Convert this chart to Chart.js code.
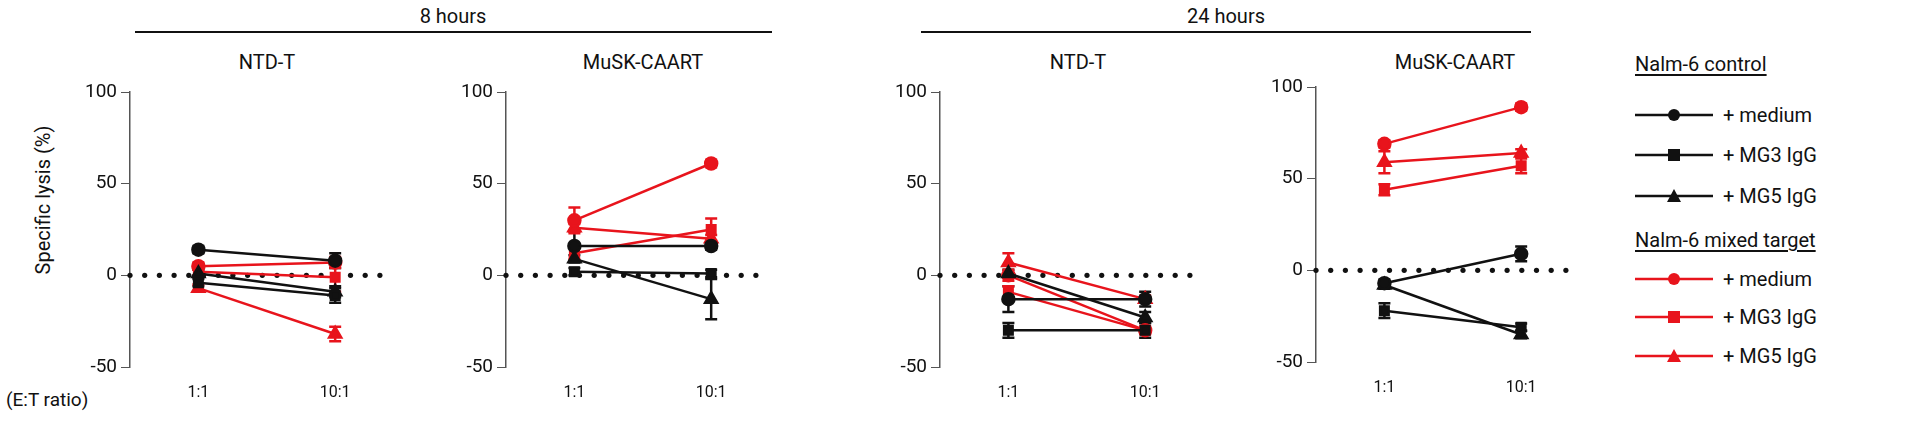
<!DOCTYPE html>
<html>
<head>
<meta charset="utf-8">
<script src="https://cdn.jsdelivr.net/npm/chart.js@4"></script>
<style>
  body { margin:0; width:1920px; height:439px; background:#fff; position:relative; overflow:hidden;
         font-family:Roboto, "Liberation Sans", sans-serif; color:#111; }
  .abs { position:absolute; }
  .hdr { font-size:20px; text-align:center; }
  .hline { height:2px; background:#111; }
  .ttl { font-size:20px; text-align:center; width:200px; }
  canvas.panel { position:absolute; top:60px; }
  .leg { font-size:20px; }
  .leg .grp { text-decoration:underline; text-underline-offset:3px; }
</style>
</head>
<body>
<div class="abs hdr" style="left:353px;top:4px;width:200px">8 hours</div>
<div class="abs hline" style="left:135px;top:31px;width:637px"></div>
<div class="abs hdr" style="left:1126px;top:4px;width:200px">24 hours</div>
<div class="abs hline" style="left:921px;top:31px;width:610px"></div>

<div class="abs ttl" style="left:167px;top:50px">NTD-T</div>
<div class="abs ttl" style="left:543px;top:50px">MuSK-CAART</div>
<div class="abs ttl" style="left:978px;top:50px">NTD-T</div>
<div class="abs ttl" style="left:1355px;top:50px">MuSK-CAART</div>

<div class="abs" style="left:-52px;top:188px;width:190px;font-size:20px;text-align:center;transform:rotate(-90deg)">Specific lysis (%)</div>
<div class="abs" style="left:6px;top:388px;font-size:19px">(E:T ratio)</div>

<canvas id="c0" class="panel" width="340" height="340" style="left:70px"></canvas>
<canvas id="c1" class="panel" width="340" height="340" style="left:446px"></canvas>
<canvas id="c2" class="panel" width="340" height="340" style="left:880px"></canvas>
<canvas id="c3" class="panel" width="340" height="340" style="left:1256px;top:55px"></canvas>

<div id="legend" class="abs leg" style="left:1635px;top:0px"></div>

<script>
// ---- data ----
const ratios = ['1:1', '10:1'];
const seriesNames = ['+ medium', '+ MG3 IgG', '+ MG5 IgG'];
const groupNames = ['Nalm-6 control', 'Nalm-6 mixed target'];

// 8 hours, NTD-T
const h8ntdCtrl = [[14, 8], [-4, -11], [1, -9]];
const h8ntdMix  = [[5, 7], [2, -1], [-7, -32]];
const h8ntdCtrlErr = [[2, 4], [2, 4], [2, 3]];
const h8ntdMixErr  = [[2, 3], [2, 8], [2, 4]];
// 8 hours, MuSK-CAART
const h8muskCtrl = [[16, 16], [2, 1], [9, -13]];
const h8muskMix  = [[30, 61], [12, 25], [26, 20]];
const h8muskCtrlErr = [[8, 2], [2, 2], [2, 11]];
const h8muskMixErr  = [[7, 2], [3, 6], [2, 2]];
// 24 hours, NTD-T
const h24ntdCtrl = [[-13, -13], [-30, -30], [1, -23]];
const h24ntdMix  = [[0, -30], [-9, -30], [7, -13]];
const h24ntdCtrlErr = [[7, 4], [4, 4], [2, 3]];
const h24ntdMixErr  = [[3, 2], [3, 2], [5, 2]];
// 24 hours, MuSK-CAART
const h24muskCtrl = [[-7, 9], [-22, -31], [-8, -35]];
const h24muskMix  = [[69, 89], [44, 57], [59, 64]];
const h24muskCtrlErr = [[2, 4], [4, 2], [2, 2]];
const h24muskMixErr  = [[2, 2], [3, 4], [6, 2]];

const yTicks = [-50, 0, 50, 100];

const BLACK = '#111111';
const RED = '#e8141c';
const shapes = ['circle', 'rect', 'triangle'];

// error bars + dotted zero line
const extrasPlugin = {
    id: 'extras',
    beforeDatasetsDraw(chart) {
        const { ctx, scales: { x, y } } = chart;
        const y0 = y.getPixelForValue(0);
        ctx.save();
        ctx.fillStyle = BLACK;
        for (let px = x.left; px <= x.right; px += 14.7) {
            ctx.beginPath();
            ctx.arc(px, y0, 2.6, 0, Math.PI * 2);
            ctx.fill();
        }
        chart.data.datasets.forEach(ds => {
            ds.data.forEach((p, i) => {
                const e = ds.err[i];
                if (!e) return;
                const cx = x.getPixelForValue(p.x);
                const top = y.getPixelForValue(p.y + e), bot = y.getPixelForValue(p.y - e);
                ctx.strokeStyle = ds.borderColor;
                ctx.lineWidth = 2.5;
                ctx.beginPath();
                ctx.moveTo(cx, top); ctx.lineTo(cx, bot);
                ctx.moveTo(cx - 6, top); ctx.lineTo(cx + 6, top);
                ctx.moveTo(cx - 6, bot); ctx.lineTo(cx + 6, bot);
                ctx.stroke();
            });
        });
        ctx.restore();
    }
};

function makeSets(vals, errs, color) {
    return vals.map((v, s) => ({
        label: seriesNames[s],
        data: v.map((val, i) => ({ x: i + 1, y: val })),
        err: errs[s],
        borderColor: color,
        backgroundColor: color,
        borderWidth: 2.5,
        pointStyle: shapes[s],
        pointRadius: s === 2 ? 7 : 6
    }));
}

function createPanel(id, ctrl, ctrlErr, mix, mixErr) {
    new Chart(document.getElementById(id), {
        type: 'line',
        data: { datasets: [...makeSets(ctrl, ctrlErr, BLACK), ...makeSets(mix, mixErr, RED)] },
        options: {
            responsive: false,
            devicePixelRatio: 1,
            animation: false,
            layout: { padding: { top: 32, right: 16, left: 0, bottom: 0 } },
            plugins: { legend: { display: false }, tooltip: { enabled: false } },
            scales: {
                x: {
                    type: 'linear', min: 0.5, max: 2.43,
                    afterBuildTicks: s => { s.ticks = [{ value: 1 }, { value: 2 }]; },
                    afterFit: s => { s.height = 33; },
                    grid: { display: false }, border: { display: false },
                    ticks: { callback: v => ratios[v - 1], color: BLACK, font: { size: 16, family: 'Roboto' }, padding: 8 }
                },
                y: {
                    min: -50, max: 100,
                    afterBuildTicks: s => { s.ticks = yTicks.map(v => ({ value: v })); },
                    afterFit: s => { s.width = 60; },
                    grid: { drawOnChartArea: false, tickLength: 9, color: '#555' },
                    border: { color: '#555', width: 1.5 },
                    ticks: { color: BLACK, font: { size: 19, family: 'Roboto' }, padding: 4 }
                }
            }
        },
        plugins: [extrasPlugin]
    });
}

createPanel('c0', h8ntdCtrl, h8ntdCtrlErr, h8ntdMix, h8ntdMixErr);
createPanel('c1', h8muskCtrl, h8muskCtrlErr, h8muskMix, h8muskMixErr);
createPanel('c2', h24ntdCtrl, h24ntdCtrlErr, h24ntdMix, h24ntdMixErr);
createPanel('c3', h24muskCtrl, h24muskCtrlErr, h24muskMix, h24muskMixErr);

// legend
function markerSvg(shape, color) {
    let m = '';
    if (shape === 'circle') m = `<circle cx="39" cy="10" r="6" fill="${color}"/>`;
    if (shape === 'rect') m = `<rect x="33" y="4" width="12" height="12" fill="${color}"/>`;
    if (shape === 'triangle') m = `<polygon points="39,3 46,16 32,16" fill="${color}"/>`;
    return `<svg width="80" height="20" style="vertical-align:middle"><line x1="0" y1="10" x2="78" y2="10" stroke="${color}" stroke-width="2.5"/>${m}</svg>`;
}
const legendTops = [[113, 153, 194], [277, 315, 354]];
let html = '';
[BLACK, RED].forEach((color, g) => {
    html += `<div class="abs grp" style="left:0;top:${g ? 228 : 52}px;white-space:nowrap">${groupNames[g]}</div>`;
    seriesNames.forEach((n, s) => {
        html += `<div class="abs" style="left:0;top:${legendTops[g][s] - 12}px;white-space:nowrap">${markerSvg(shapes[s], color)}<span style="margin-left:8px;vertical-align:middle">${n}</span></div>`;
    });
});
document.getElementById('legend').innerHTML = html;
</script>
</body>
</html>
